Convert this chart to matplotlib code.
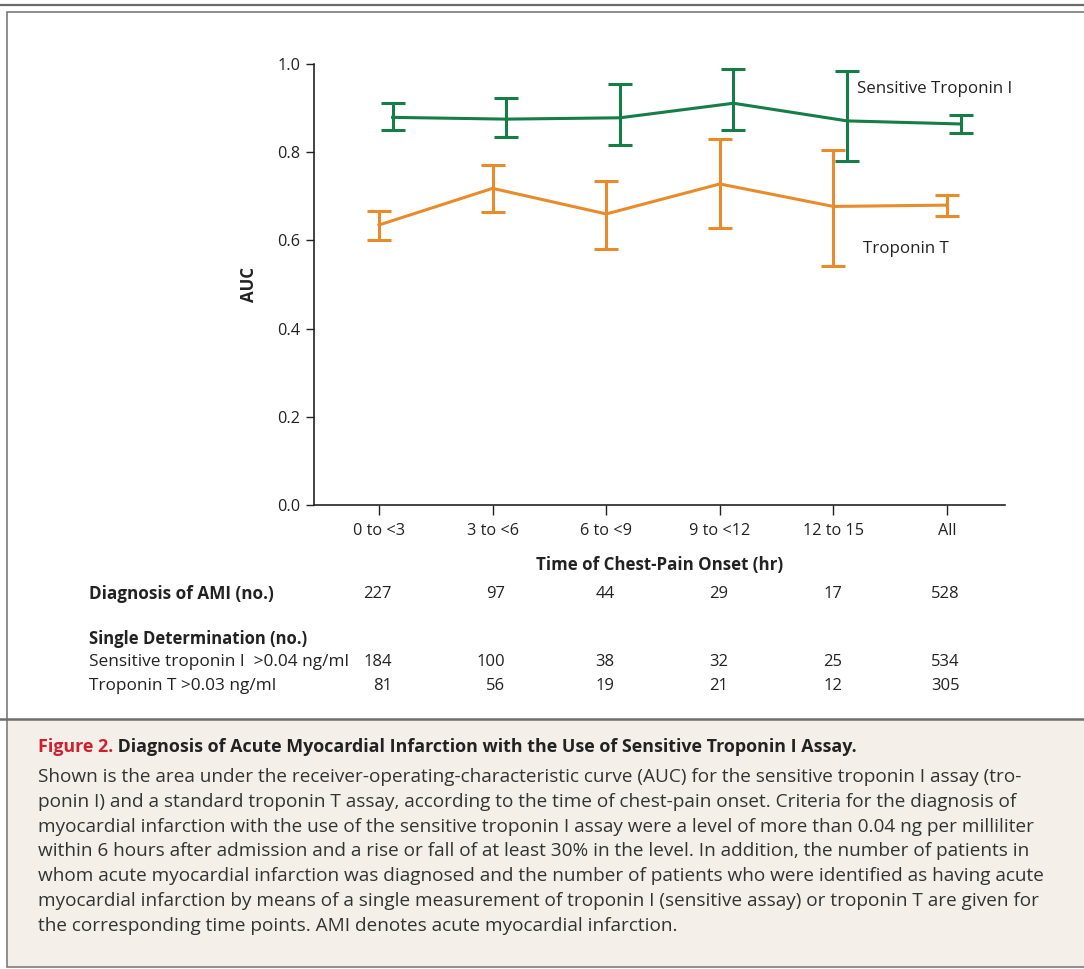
import matplotlib
matplotlib.use('Agg')
import matplotlib.pyplot as plt
from matplotlib.lines import Line2D
from matplotlib.patches import Rectangle
import matplotlib.transforms as mtransforms

plt.rcParams['font.family'] = ['Open Sans', 'DejaVu Sans']

# data
periods = ['0 to <3', '3 to <6', '6 to <9', '9 to <12', '12 to 15', 'All']
auc_tni = [0.879, 0.875, 0.878, 0.911, 0.871, 0.864]
tni_lo = [0.850, 0.834, 0.816, 0.850, 0.781, 0.844]
tni_hi = [0.911, 0.924, 0.955, 0.988, 0.983, 0.884]
auc_tnt = [0.635, 0.718, 0.660, 0.728, 0.677, 0.680]
tnt_lo = [0.601, 0.664, 0.580, 0.628, 0.541, 0.656]
tnt_hi = [0.667, 0.772, 0.735, 0.830, 0.805, 0.703]

n_ami = [227, 97, 44, 29, 17, 528]
n_tni = [184, 100, 38, 32, 25, 534]
n_tnt = [81, 56, 19, 21, 12, 305]

green = '#157d47'
orange = '#e88b2b'
ink = '#222222'
W, H = 1084, 969

fig = plt.figure(figsize=(W / 100, H / 100), dpi=100)

# frame around the figure panel and caption area
fig.add_artist(Rectangle((7 / W, 1 - 967 / H), 1.2, (967 - 12) / H, transform=fig.transFigure,
                         facecolor='white', edgecolor='#7a7a7a', lw=1.2, zorder=0))
fig.add_artist(Rectangle((8 / W, 1 - 966 / H), 1.2, (966 - 719) / H, transform=fig.transFigure,
                         facecolor='#f4f0e9', edgecolor='none', zorder=0))
fig.add_artist(Line2D([0, 1], [1 - 719 / H] * 2, transform=fig.transFigure, color='#6e6e6e', lw=1.8))
fig.add_artist(Line2D([0, 1], [1 - 5 / H] * 2, transform=fig.transFigure, color='#6a6a6a', lw=1.6))

ax = fig.add_axes([314 / W, 1 - 505 / H, (1005 - 314) / W, (505 - 64) / H])
ax.patch.set_alpha(0)
x = list(range(len(periods)))
shift = 0.12

ax.errorbar([i + shift for i in x], auc_tni,
            yerr=[[a - l for a, l in zip(auc_tni, tni_lo)], [h - a for a, h in zip(auc_tni, tni_hi)]],
            color=green, lw=2.2, capsize=8.3, capthick=2.2, elinewidth=2.2)
ax.errorbar(x, auc_tnt,
            yerr=[[a - l for a, l in zip(auc_tnt, tnt_lo)], [h - a for a, h in zip(auc_tnt, tnt_hi)]],
            color=orange, lw=2.2, capsize=8.3, capthick=2.2, elinewidth=2.2)

ax.text(4.21, 0.943, 'Sensitive Troponin I', fontsize=12.2, color=ink, va='center')
ax.text(4.26, 0.58, 'Troponin T', fontsize=12.2, color=ink, va='center')

ax.set_xlim(-0.572, 5.51)
ax.set_ylim(0, 1.0)
ax.set_xticks(x)
ax.set_xticklabels(periods)
ax.set_yticks([0.0, 0.2, 0.4, 0.6, 0.8, 1.0])
ax.set_yticklabels(['0.0', '0.2', '0.4', '0.6', '0.8', '1.0'])
for s in ['top', 'right']:
    ax.spines[s].set_visible(False)
for s in ['left', 'bottom']:
    ax.spines[s].set_color(ink)
    ax.spines[s].set_linewidth(1.2)
ax.tick_params(axis='both', labelsize=11.7, colors=ink, width=1.0, length=6, pad=4)
ax.tick_params(axis='x', length=7, pad=6)
ax.set_xlabel('Time of Chest-Pain Onset (hr)', fontsize=12.2, fontweight='bold', color=ink, labelpad=12)
ax.set_ylabel('AUC', fontsize=12.2, fontweight='bold', color=ink, labelpad=14)

# table under the chart: x in data units, y in figure units
tr = mtransforms.blended_transform_factory(ax.transData, fig.transFigure)
rows = [(594, n_ami), (662, n_tni), (686, n_tnt)]
for c in x:
    nd = max(len(str(r[1][c])) for r in rows)
    for ypx, vals in rows:
        fig.text(c + nd * 0.038, 1 - ypx / H, str(vals[c]), transform=tr, ha='right', va='center',
                 fontsize=12, color=ink)

fig.text(89 / W, 1 - 594 / H, 'Diagnosis of AMI (no.)', fontsize=12.3, fontweight='bold', va='center', color=ink)
fig.text(89 / W, 1 - 639 / H, 'Single Determination (no.)', fontsize=12.0, fontweight='bold', va='center', color=ink)
fig.text(89 / W, 1 - 662 / H, 'Sensitive troponin I  >0.04 ng/ml', fontsize=12.4, va='center', color=ink)
fig.text(89 / W, 1 - 686 / H, 'Troponin T >0.03 ng/ml', fontsize=12.4, va='center', color=ink)

# caption
t1 = fig.text(38 / W, 1 - 745 / H, 'Figure 2.', fontsize=12.9, fontweight='bold', color='#d01f2e',
              va='center_baseline')
ax.annotate(' Diagnosis of Acute Myocardial Infarction with the Use of Sensitive Troponin I Assay.',
            xy=(1, 0), xycoords=t1, va='bottom', fontsize=12.9, fontweight='bold', color=ink,
            annotation_clip=False)
caption = [
    'Shown is the area under the receiver-operating-characteristic curve (AUC) for the sensitive troponin I assay (tro-',
    'ponin I) and a standard troponin T assay, according to the time of chest-pain onset. Criteria for the diagnosis of',
    'myocardial infarction with the use of the sensitive troponin I assay were a level of more than 0.04 ng per milliliter',
    'within 6 hours after admission and a rise or fall of at least 30% in the level. In addition, the number of patients in',
    'whom acute myocardial infarction was diagnosed and the number of patients who were identified as having acute',
    'myocardial infarction by means of a single measurement of troponin I (sensitive assay) or troponin T are given for',
    'the corresponding time points. AMI denotes acute myocardial infarction.',
]
for k, line in enumerate(caption):
    fig.text(38 / W, 1 - (777 + 24.8 * k) / H, line, fontsize=13.7, color='#333333', va='center')

fig.savefig('out.png', dpi=100)
